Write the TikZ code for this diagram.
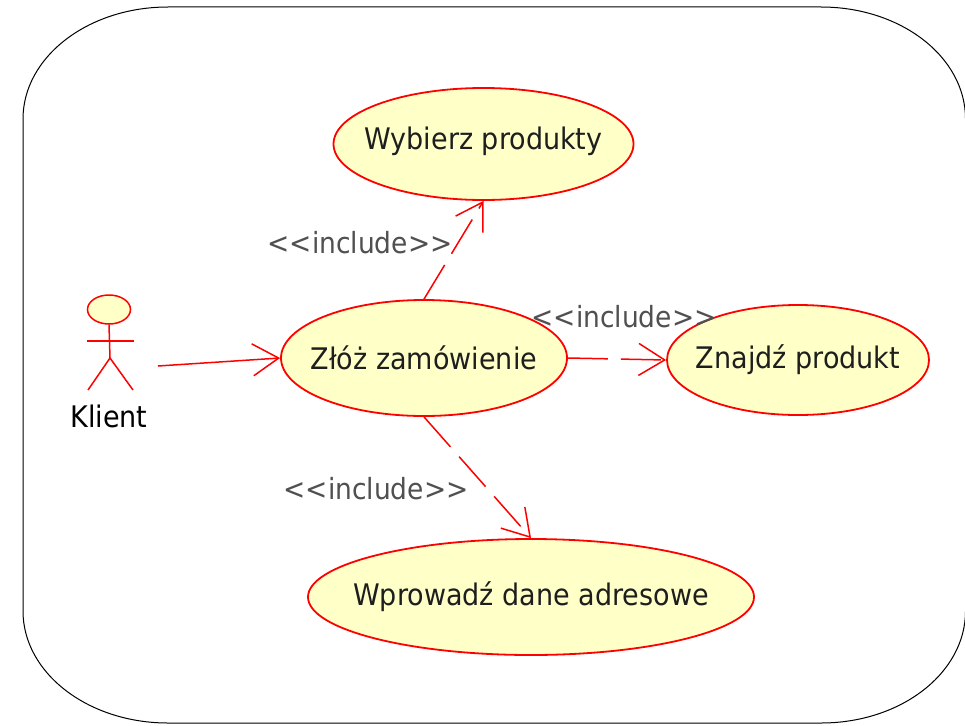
\documentclass[tikz,border=0pt]{standalone}
\usepackage{fontspec}
\setmainfont{DejaVu Sans}
\usetikzlibrary{shapes.geometric,arrows.meta}
\definecolor{ucfill}{RGB}{255,255,200}
\definecolor{ucred}{RGB}{255,0,0}
\definecolor{labgray}{RGB}{80,80,80}
\definecolor{txtdark}{RGB}{30,30,30}
\newcommand{\uctxt}[1]{\scalebox{1}[1.1]{#1}}
\newcommand{\incltxt}{{<}{<}include{>}{>}}
\tikzset{
  uc/.style={ellipse, draw=ucred, line width=1.8pt, fill=ucfill, inner sep=0pt},
  uclabel/.style={text=txtdark, font=\fontsize{27}{32}\selectfont},
  inclab/.style={text=labgray, font=\fontsize{26.5}{31}\selectfont, inner sep=0pt},
  actorline/.style={draw=ucred, line width=1.5pt},
  assoc/.style={draw=ucred, line width=1.5pt, -{Straight Barb[length=26pt,width=32pt,line width=1.5pt]}},
  incl/.style={assoc, dash pattern=on 40pt off 13pt},
  frame/.style={draw=black, line width=1pt}
}
\begin{document}
\begin{tikzpicture}[x=1pt,y=-1pt]
\useasboundingbox (0,0) rectangle (965,725);
% frame
\draw[frame] (168,7) -- (821,7)
  .. controls (901.1,7) and (965.5,57.1) .. (965.5,119)
  -- (965.5,611)
  .. controls (965.5,672.9) and (901.1,723) .. (821,723)
  -- (168,723)
  .. controls (87.9,723) and (23,672.9) .. (23,611)
  -- (23,119)
  .. controls (23,57.1) and (87.9,7) .. cycle;
% use cases
\node[uc, minimum width=300pt, minimum height=112pt] (wyb) at (483.5,144) {};
\node[uclabel] at ([yshift=3pt]wyb.center) {\uctxt{Wybierz produkty}};
\node[uc, minimum width=286pt, minimum height=116pt] (zloz) at (424,358) {};
\node[uclabel] at (zloz) {\uctxt{Złóż zamówienie}};
\node[uc, minimum width=262pt, minimum height=110pt] (znajdz) at (798,360) {};
\node[uclabel] at (znajdz) {\uctxt{Znajdź produkt}};
\node[uc, minimum width=446pt, minimum height=116pt] (wpr) at (531,597) {};
\node[uclabel] at (wpr) {\uctxt{Wprowadź dane adresowe}};
% actor
\node[ellipse, draw=ucred, line width=1.5pt, fill=ucfill, inner sep=0pt, minimum width=43pt, minimum height=29pt] (head) at (109,309.5) {};
\coordinate (hip) at (110,358);
\coordinate (armL) at (87,341);
\coordinate (armR) at (134,341);
\coordinate (legL) at (88,390);
\coordinate (legR) at (133,390);
\draw[actorline] (head.south) -- (hip);
\draw[actorline] (armL) -- (armR);
\draw[actorline] (legL) -- (hip) -- (legR);
\node[uclabel, text=black] (klient) at (109,416) {\uctxt{Klient}};
\coordinate (actR) at (158,366);
% connectors
\draw[assoc] (actR) -- (zloz.west);
\draw[incl] (zloz.north) -- (wyb.south);
\draw[incl] (zloz.east) -- (znajdz.west);
\draw[incl] (zloz.south) -- (wpr.north);
% labels
\node[inclab] (l1) at (360,243) {\uctxt{\incltxt}};
\node[inclab] (l2) at (624,317) {\uctxt{\incltxt}};
\node[inclab] (l3) at (376,489) {\uctxt{\incltxt}};
\end{tikzpicture}
\end{document}
